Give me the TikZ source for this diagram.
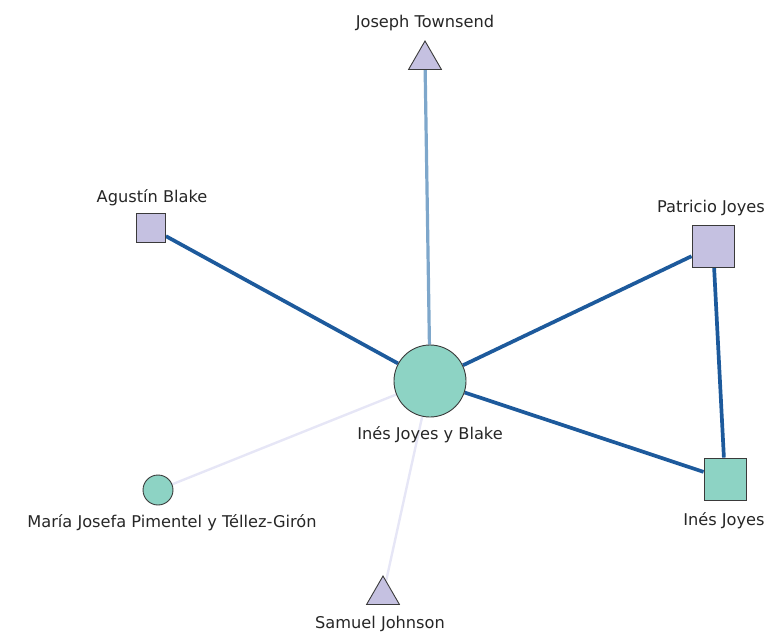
\documentclass[tikz,border=0pt]{standalone}
\usepackage{fontspec}
\setmainfont{DejaVu Sans}
\usetikzlibrary{shapes.geometric}
\definecolor{lav}{HTML}{C5C1E1}
\definecolor{teal2}{HTML}{8DD3C4}
\definecolor{darkedge}{HTML}{1D5A9C}
\definecolor{midedge}{HTML}{7EA7CB}
\definecolor{faintedge}{HTML}{E6E6F6}
\definecolor{bord}{HTML}{3A3A3A}
\pgfdeclarelayer{bg}
\pgfsetlayers{bg,main}
\begin{document}
\begin{tikzpicture}[x=1pt,y=-1pt,
  sq/.style={draw=bord,line width=0.9pt,rectangle,inner sep=0pt},
  circ/.style={draw=bord,line width=0.9pt,circle,inner sep=0pt,fill=teal2},
  tri/.style={draw=bord,line width=0.9pt,regular polygon,regular polygon sides=3,inner sep=0pt,minimum size=38pt,fill=lav},
  lab/.style={font=\fontsize{16.2}{19}\selectfont,text=black!85,inner sep=0pt},
  strong/.style={draw=darkedge,line width=3.7pt},
  mid/.style={draw=midedge,line width=3.2pt},
  faint/.style={draw=faintedge,line width=2.4pt}]
\useasboundingbox (0,0) rectangle (766,632);
\node[tri] (jt) at (425,60) {};
\node[sq,fill=lav,minimum size=29pt] (ab) at (151,228) {};
\node[sq,fill=lav,minimum size=42pt] (pj) at (713,246) {};
\node[circ,minimum size=72pt] (ij) at (430,381) {};
\node[sq,fill=teal2,minimum size=42pt] (ines) at (725,479) {};
\node[circ,minimum size=30pt] (mj) at (158,490) {};
\node[tri] (sj) at (383,595) {};
\begin{pgfonlayer}{bg}
\path[faint] (ij) -- (mj);
\path[faint] (ij) -- (sj);
\path[mid] (ij) -- (jt);
\path[strong] (ij) -- (ab);
\path[strong] (ij) -- (pj);
\path[strong] (ij) -- (ines);
\path[strong] (pj) -- (ines);
\end{pgfonlayer}
\node[lab] (ljt) at (425,23) {Joseph Townsend};
\node[lab] (lab1) at (152,198) {Agustín Blake};
\node[lab] (lpj) at (711,208) {Patricio Joyes};
\node[lab] (lij) at (430,435) {Inés Joyes y Blake};
\node[lab] (lines) at (724,521) {Inés Joyes};
\node[lab] (lmj) at (172,523) {María Josefa Pimentel y Téllez-Girón};
\node[lab] (lsj) at (380,624) {Samuel Johnson};
\end{tikzpicture}
\end{document}
